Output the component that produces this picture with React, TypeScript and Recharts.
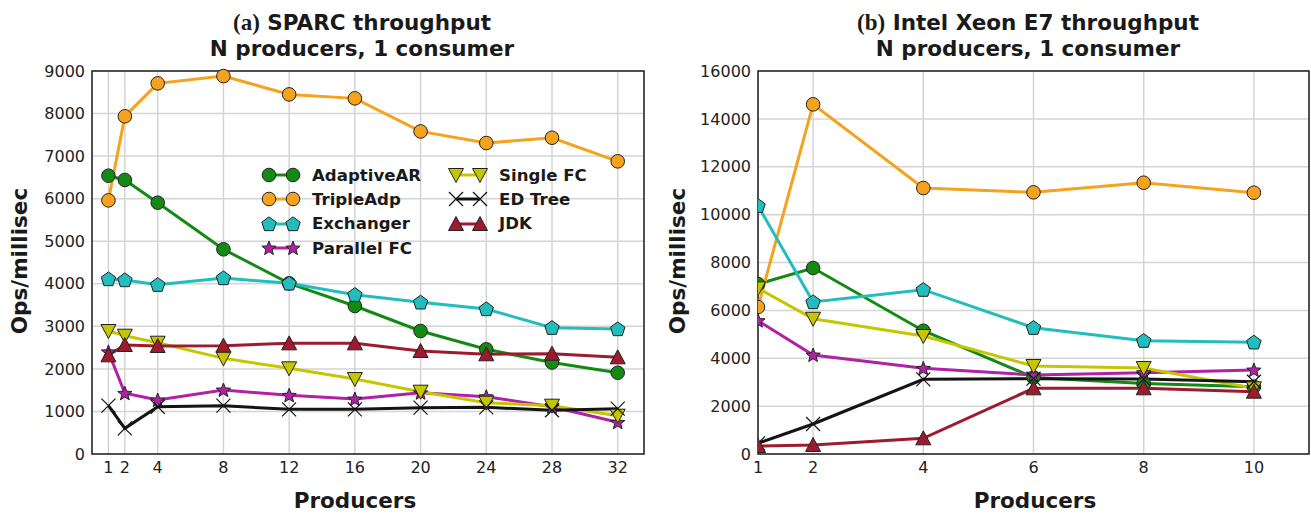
import React from 'react';
import { LineChart, Line, XAxis, YAxis, CartesianGrid, ReferenceArea } from 'recharts';

// left panel: SPARC
const sparcProducers = [1, 2, 4, 8, 12, 16, 20, 24, 28, 32];
const sparcAdaptiveAR = [6540, 6440, 5905, 4810, 4010, 3478, 2890, 2460, 2150, 1910];
const sparcTripleAdp = [5960, 7935, 8710, 8880, 8450, 8357, 7580, 7307, 7432, 6877];
const sparcExchanger = [4112, 4088, 3978, 4135, 4010, 3743, 3564, 3407, 2968, 2937];
const sparcParallelFC = [2400, 1426, 1269, 1504, 1379, 1292, 1440, 1346, 1111, 745];
const sparcSingleFC = [2890, 2780, 2615, 2248, 2013, 1762, 1464, 1206, 1135, 900];
const sparcEDTree = [1135, 603, 1111, 1135, 1050, 1050, 1088, 1097, 1027, 1065];
const sparcJDK = [2319, 2561, 2538, 2545, 2600, 2600, 2420, 2343, 2357, 2272];
const sparcXTicks = [1, 2, 4, 8, 12, 16, 20, 24, 28, 32];
const sparcYTicks = [0, 1000, 2000, 3000, 4000, 5000, 6000, 7000, 8000, 9000];

// right panel: Intel Xeon E7
const xeonProducers = [1, 2, 4, 6, 8, 10];
const xeonAdaptiveAR = [7100, 7770, 5150, 3200, 2950, 2812];
const xeonTripleAdp = [6140, 14607, 11111, 10931, 11333, 10916];
const xeonExchanger = [10372, 6350, 6864, 5277, 4734, 4665];
const xeonParallelFC = [5570, 4135, 3578, 3300, 3397, 3509];
const xeonSingleFC = [6920, 5650, 4929, 3676, 3592, 2744];
const xeonEDTree = [447, 1253, 3120, 3146, 3130, 3020];
const xeonJDK = [334, 376, 655, 2744, 2744, 2603];
const xeonXTicks = [1, 2, 4, 6, 8, 10];
const xeonYTicks = [0, 2000, 4000, 6000, 8000, 10000, 12000, 14000, 16000];

type Shape = 'circle' | 'pentagon' | 'star' | 'tdown' | 'x' | 'tup';

const seriesInfo: { key: string; name: string; color: string; shape: Shape }[] = [
  { key: 'adaptive', name: 'AdaptiveAR', color: '#138a13', shape: 'circle' },
  { key: 'triple', name: 'TripleAdp', color: '#f5a21f', shape: 'circle' },
  { key: 'exchanger', name: 'Exchanger', color: '#22bdbd', shape: 'pentagon' },
  { key: 'parallel', name: 'Parallel FC', color: '#b021a6', shape: 'star' },
  { key: 'single', name: 'Single FC', color: '#c6c600', shape: 'tdown' },
  { key: 'edtree', name: 'ED Tree', color: '#141414', shape: 'x' },
  { key: 'jdk', name: 'JDK', color: '#9e1a2e', shape: 'tup' },
];

function buildRows(xs: number[], cols: number[][]) {
  return xs.map((x, i) => {
    const row: any = { x };
    seriesInfo.forEach((s, j) => (row[s.key] = cols[j][i]));
    return row;
  });
}

const sparcData = buildRows(sparcProducers, [
  sparcAdaptiveAR, sparcTripleAdp, sparcExchanger, sparcParallelFC, sparcSingleFC, sparcEDTree, sparcJDK,
]);
const xeonData = buildRows(xeonProducers, [
  xeonAdaptiveAR, xeonTripleAdp, xeonExchanger, xeonParallelFC, xeonSingleFC, xeonEDTree, xeonJDK,
]);

const EDGE = '#222';

function polyPoints(cx: number, cy: number, n: number, r: number, inner?: number) {
  const pts: string[] = [];
  const count = inner ? n * 2 : n;
  for (let i = 0; i < count; i++) {
    const a = -Math.PI / 2 + (i * 2 * Math.PI) / count;
    const rr = inner && i % 2 === 1 ? inner : r;
    pts.push(`${cx + rr * Math.cos(a)},${cy + rr * Math.sin(a)}`);
  }
  return pts.join(' ');
}

function Marker({ cx, cy, shape, color }: { cx: number; cy: number; shape: Shape; color: string }) {
  if (cx == null || cy == null) return null;
  switch (shape) {
    case 'circle':
      return <circle cx={cx} cy={cy} r={6.8} fill={color} stroke={EDGE} strokeWidth={1} />;
    case 'pentagon':
      return <polygon points={polyPoints(cx, cy + 0.5, 5, 7.6)} fill={color} stroke={EDGE} strokeWidth={1} />;
    case 'star':
      return <polygon points={polyPoints(cx, cy + 0.5, 5, 7.5, 3.2)} fill={color} stroke={EDGE} strokeWidth={1} />;
    case 'tdown':
      return (
        <polygon
          points={`${cx - 7.5},${cy - 6.5} ${cx + 7.5},${cy - 6.5} ${cx},${cy + 7.5}`}
          fill={color}
          stroke={EDGE}
          strokeWidth={1}
        />
      );
    case 'tup':
      return (
        <polygon
          points={`${cx - 7.5},${cy + 6.5} ${cx + 7.5},${cy + 6.5} ${cx},${cy - 7.5}`}
          fill={color}
          stroke={EDGE}
          strokeWidth={1}
        />
      );
    case 'x':
      return (
        <g stroke={color} strokeWidth={1.2}>
          <line x1={cx - 7} y1={cy - 7} x2={cx + 7} y2={cy + 7} />
          <line x1={cx - 7} y1={cy + 7} x2={cx + 7} y2={cy - 7} />
        </g>
      );
  }
  return null;
}

const dotFor = (shape: Shape, color: string) => (props: any) =>
  <g key={`d-${props.index}`}><Marker cx={props.cx} cy={props.cy} shape={shape} color={color} /></g>;

const tickStyle = { fontFamily: 'DejaVu Sans', fontSize: 16, fill: '#222' };
const boldFont = "'DejaVu Sans', sans-serif";

function Panel({
  data, xTicks, yTicks, xDomain, yMax, width, yAxisWidth, rightMargin,
}: {
  data: any[]; xTicks: number[]; yTicks: number[]; xDomain: [number, number]; yMax: number;
  width: number; yAxisWidth: number; rightMargin: number;
}) {
  return (
    <LineChart width={width} height={514} data={data} margin={{ top: 71, right: rightMargin, bottom: 0, left: 0 }}>
      <CartesianGrid stroke="#d4d4d4" strokeWidth={1.5} />
      <XAxis
        dataKey="x"
        type="number"
        domain={xDomain}
        ticks={xTicks}
        allowDataOverflow
        height={60}
        tickSize={0}
        tickMargin={8}
        axisLine={false}
        tick={tickStyle}
      />
      <YAxis
        type="number"
        domain={[0, yMax]}
        ticks={yTicks}
        width={yAxisWidth}
        tickSize={0}
        tickMargin={7}
        axisLine={false}
        tick={tickStyle}
        interval={0}
      />
      {seriesInfo.map((s) => (
        <Line
          key={s.key}
          dataKey={s.key}
          stroke={s.color}
          strokeWidth={3}
          dot={dotFor(s.shape, s.color)}
          activeDot={false}
          isAnimationActive={false}
        />
      ))}
      <ReferenceArea
        x1={xDomain[0]}
        x2={xDomain[1]}
        y1={0}
        y2={yMax}
        fill="none"
        stroke={EDGE}
        strokeWidth={1.5}
        ifOverflow="visible"
      />
    </LineChart>
  );
}

function LegendItem({ s }: { s: (typeof seriesInfo)[number] }) {
  return (
    <div style={{ display: 'flex', alignItems: 'center', height: 24.3 }}>
      <svg width={46} height={20} style={{ display: 'block' }}>
        <line x1={11} y1={10} x2={35} y2={10} stroke={s.color} strokeWidth={3} />
        <Marker cx={11} cy={10} shape={s.shape} color={s.color} />
        <Marker cx={35} cy={10} shape={s.shape} color={s.color} />
      </svg>
      <span style={{ marginLeft: 8, fontFamily: boldFont, fontWeight: 'bold', fontSize: 16.6, color: '#1a1a1a' }}>
        {s.name}
      </span>
    </div>
  );
}

function Title({ tag, text, cx }: { tag: string; text: string; cx: number }) {
  return (
    <div
      style={{
        position: 'absolute', left: cx - 250, width: 500, top: 10, textAlign: 'center',
        fontFamily: boldFont, fontWeight: 'bold', fontSize: 21.5, lineHeight: '26px', color: '#1a1a1a',
      }}
    >
      <div>
        <span style={{ fontFamily: "'Liberation Serif', serif", fontSize: 23 }}>{tag}</span> {text}
      </div>
      <div>N producers, 1 consumer</div>
    </div>
  );
}

const axisLabel: React.CSSProperties = {
  position: 'absolute', fontFamily: boldFont, fontWeight: 'bold', fontSize: 21.5, color: '#1a1a1a', whiteSpace: 'nowrap',
};

export default function App() {
  return (
    <div style={{ position: 'absolute', left: 0, top: 0, width: 1311, height: 514, background: '#fff', overflow: 'hidden' }}>
      <div style={{ position: 'absolute', left: 0, top: 0 }}>
        <Panel data={sparcData} xTicks={sparcXTicks} yTicks={sparcYTicks} xDomain={[0, 33.6]} yMax={9000}
          width={660} yAxisWidth={92} rightMargin={16} />
      </div>
      <div style={{ position: 'absolute', left: 660, top: 0 }}>
        <Panel data={xeonData} xTicks={xeonXTicks} yTicks={xeonYTicks} xDomain={[1, 11]} yMax={16000}
          width={651} yAxisWidth={98} rightMargin={2} />
      </div>

      <Title tag="(a)" text="SPARC throughput" cx={362} />
      <Title tag="(b)" text="Intel Xeon E7 throughput" cx={1028} />

      <div style={{ ...axisLabel, left: 355, top: 500, transform: 'translate(-50%, -50%)' }}>Producers</div>
      <div style={{ ...axisLabel, left: 1035, top: 500, transform: 'translate(-50%, -50%)' }}>Producers</div>
      <div style={{ ...axisLabel, left: 19, top: 261, transform: 'translate(-50%, -50%) rotate(-90deg)' }}>Ops/millisec</div>
      <div style={{ ...axisLabel, left: 677, top: 261, transform: 'translate(-50%, -50%) rotate(-90deg)' }}>Ops/millisec</div>

      <div style={{ position: 'absolute', left: 258, top: 163, display: 'flex' }}>
        <div>
          {seriesInfo.slice(0, 4).map((s) => <LegendItem key={s.key} s={s} />)}
        </div>
        <div style={{ marginLeft: 24 }}>
          {seriesInfo.slice(4).map((s) => <LegendItem key={s.key} s={s} />)}
        </div>
      </div>
    </div>
  );
}
